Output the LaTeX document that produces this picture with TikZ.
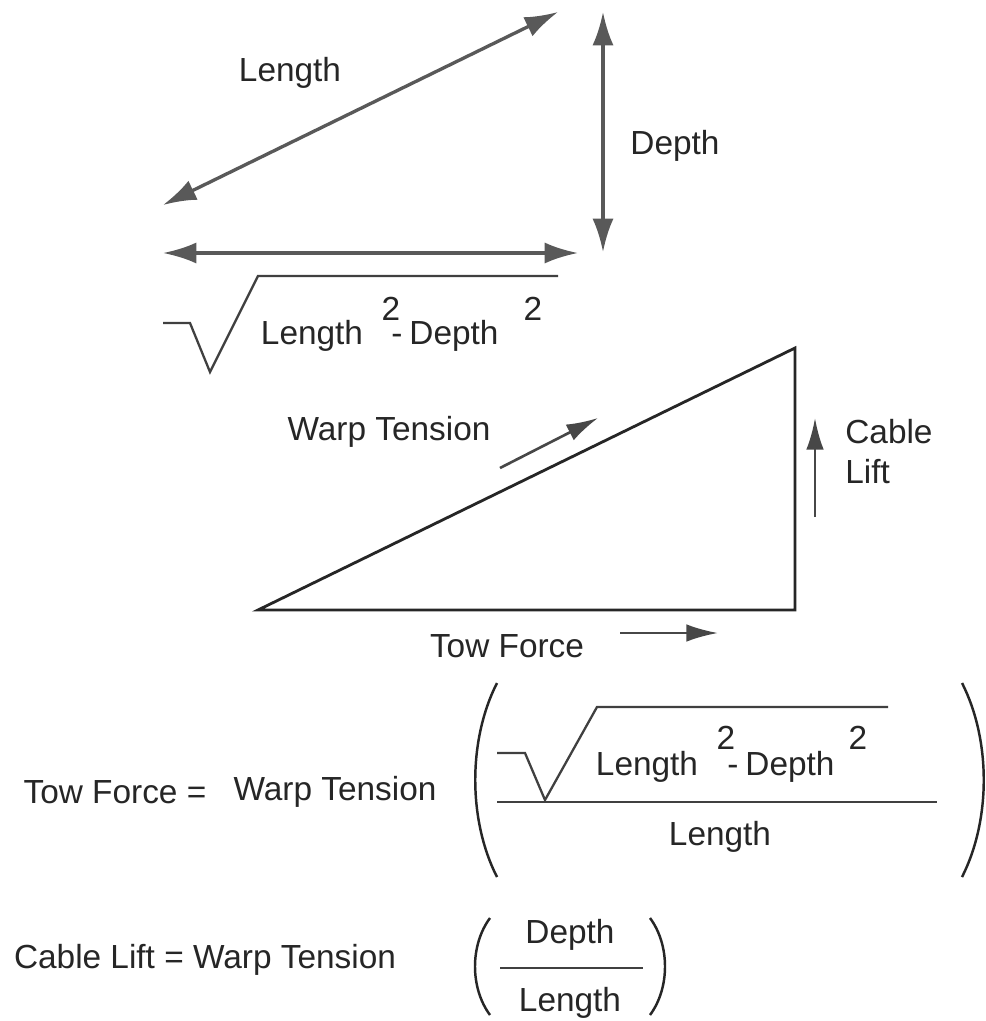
\documentclass[tikz,border=0pt]{standalone}
\usepackage{fontspec}
\setmainfont{Liberation Sans}
\usetikzlibrary{arrows.meta, positioning}

\begin{document}
\begin{tikzpicture}[
    x=0.02cm, y=-0.02cm,
    lbl/.style={font=\fontsize{19}{22}\selectfont, text=black!85, inner sep=0pt},
    dimline/.style={line width=1.9pt, draw=black!65, {Latex[length=19pt,width=12pt]}-{Latex[length=19pt,width=12pt]}},
    force/.style={line width=1.5pt, draw=black!72, -{Latex[length=18pt,width=10pt]}},
    side/.style={line width=1.6pt, draw=black!85, line join=miter},
    radical/.style={line width=1.3pt, draw=black!75},
    paren/.style={line width=1.4pt, draw=black!85}
]
\useasboundingbox[fill=white] (0,0) rectangle (985,1021);

% Dimension arrows
\coordinate (lenA) at (163,205);
\coordinate (lenB) at (558,12);
\coordinate (depA) at (603,12);
\coordinate (depB) at (603,252);
\coordinate (baseA) at (163,253);
\coordinate (baseB) at (578,253);
\draw[dimline] (lenA) -- (lenB);
\draw[dimline] (depA) -- (depB);
\draw[dimline] (baseA) -- (baseB);
\node (lenlbl) [lbl] at (290,73) {Length};
\node (deplbl) [lbl] at (675,146) {Depth};

% Root under the base
\coordinate (r1a) at (163,323);
\coordinate (r1b) at (190,323);
\coordinate (r1c) at (210,372);
\coordinate (r1d) at (258,276);
\coordinate (r1e) at (558,276);
\draw[radical] (r1a) -- (r1b) -- (r1c) -- (r1d) -- (r1e);
\node (len1) [lbl] at (312,336) {Length};
\node (sq1) [lbl] at (391,309) {2};
\node (minus1) [lbl, anchor=base] at (397,344) {-};
\node (dep1) [lbl] at (454,336) {Depth};
\node (sq2) [lbl] at (533,309) {2};

% Force triangle
\coordinate (tA) at (258,610);
\coordinate (tB) at (795,610);
\coordinate (tC) at (795,348);
\draw[side] (tA) -- (tB) -- (tC) -- cycle;
\node (warplbl) [lbl] at (389,432) {Warp Tension};
\coordinate (warpA) at (500,468);
\coordinate (warpB) at (598,418);
\draw[force] (warpA) -- (warpB);
\node (cablelbl) [lbl, anchor=west] at (845,432) {Cable};
\node (liftlbl) [lbl, anchor=west] at (845,472) {Lift};
\coordinate (liftA) at (815,517);
\coordinate (liftB) at (815,418);
\draw[force] (liftA) -- (liftB);
\node (towlbl) [lbl] at (507,646) {Tow Force};
\coordinate (towA) at (620,633);
\coordinate (towB) at (718,633);
\draw[force] (towA) -- (towB);

% Tow force formula
\node (towEq) [lbl] at (115,792) {Tow Force =};
\node (warpEq) [lbl] at (335,792) {Warp Tension};
\draw[paren] (497,683) .. controls (468,740) and (468,820) .. (497,877);
\draw[paren] (962,683) .. controls (991,740) and (991,820) .. (962,877);
\coordinate (r2a) at (497,753);
\coordinate (r2b) at (525,753);
\coordinate (r2c) at (545,800);
\coordinate (r2d) at (597,707);
\coordinate (r2e) at (888,707);
\draw[radical] (r2a) -- (r2b) -- (r2c) -- (r2d) -- (r2e);
\coordinate (bar1a) at (497,802);
\coordinate (bar1b) at (937,802);
\draw[radical] (bar1a) -- (bar1b);
\node (len2) [lbl] at (647,767) {Length};
\node (sq3) [lbl] at (726,738) {2};
\node (minus2) [lbl, anchor=base] at (733,775) {-};
\node (dep2) [lbl] at (790,767) {Depth};
\node (sq4) [lbl] at (858,738) {2};
\node (lenden) [lbl] at (720,837) {Length};

% Cable lift formula
\node (liftEq) [lbl] at (205,960) {Cable Lift = Warp Tension};
\draw[paren] (490,918) .. controls (470,945) and (470,988) .. (490,1015);
\draw[paren] (650,918) .. controls (670,945) and (670,988) .. (650,1015);
\node (depnum) [lbl] at (570,935) {Depth};
\coordinate (bar2a) at (500,968);
\coordinate (bar2b) at (643,968);
\draw[radical] (bar2a) -- (bar2b);
\node (lenden2) [lbl] at (570,1003) {Length};
\end{tikzpicture}
\end{document}
